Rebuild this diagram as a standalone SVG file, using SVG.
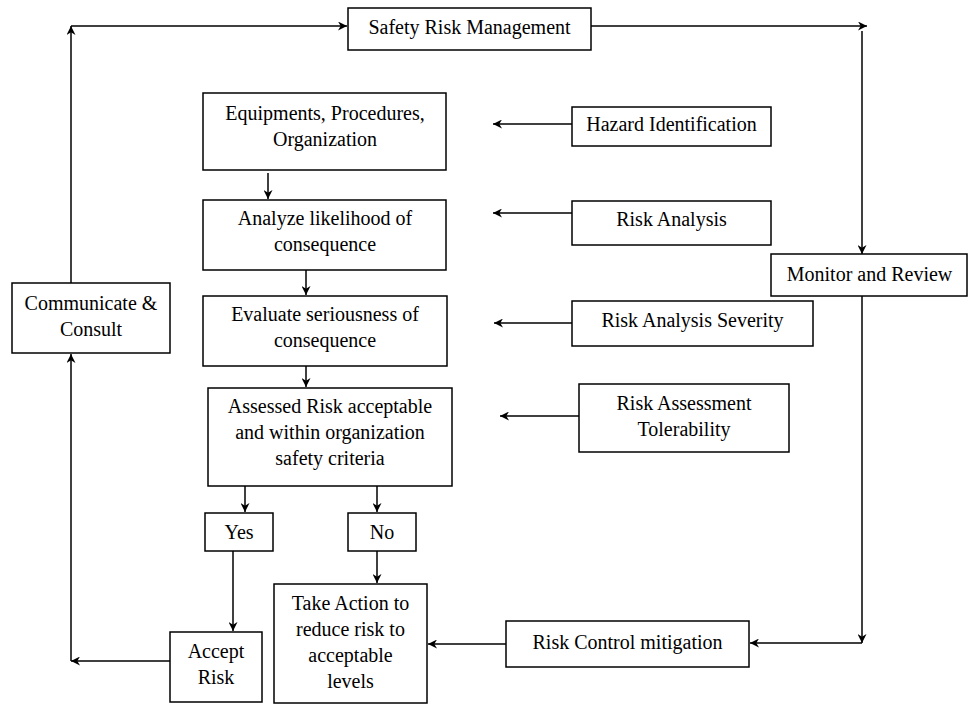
<svg xmlns="http://www.w3.org/2000/svg" width="968" height="704" viewBox="0 0 968 704">
<style>
rect{fill:#fff;stroke:#000;stroke-width:1.5}
text{font-family:"Liberation Serif","Times New Roman",serif;font-size:20px;fill:#000;text-anchor:middle}
.c path,.c line,.c polyline{fill:none;stroke:#000;stroke-width:1.5}
</style>
<defs>
<marker id="ah" viewBox="0 0 10 10" refX="10" refY="5" markerWidth="9" markerHeight="9" orient="auto" markerUnits="userSpaceOnUse"><path d="M0,0 L10,5 L0,10 L3,5 z" fill="#000"/></marker>
</defs>
<rect width="968" height="704" style="fill:#fff;stroke:none"/>
<g class="c" id="connectors">
<line x1="71" y1="283" x2="71" y2="26" marker-end="url(#ah)"/>
<line x1="71" y1="26" x2="347" y2="26" marker-end="url(#ah)"/>
<line x1="591" y1="26" x2="867" y2="26" marker-end="url(#ah)"/>
<line x1="862" y1="31" x2="862" y2="254" marker-end="url(#ah)"/>
<line x1="862" y1="296" x2="862" y2="643" marker-end="url(#ah)"/>
<line x1="862" y1="643" x2="750" y2="643" marker-end="url(#ah)"/>
<line x1="506" y1="644" x2="428" y2="644" marker-end="url(#ah)"/>
<line x1="170" y1="661" x2="71" y2="661" marker-end="url(#ah)"/>
<line x1="71" y1="661" x2="71" y2="354" marker-end="url(#ah)"/>
<line x1="572" y1="124" x2="493" y2="124" marker-end="url(#ah)"/>
<line x1="572" y1="213" x2="493" y2="213" marker-end="url(#ah)"/>
<line x1="572" y1="323" x2="494" y2="323" marker-end="url(#ah)"/>
<line x1="579" y1="416" x2="500" y2="416" marker-end="url(#ah)"/>
<line x1="268" y1="173" x2="268" y2="199" marker-end="url(#ah)"/>
<line x1="306" y1="270" x2="306" y2="295" marker-end="url(#ah)"/>
<line x1="306" y1="366" x2="306" y2="387" marker-end="url(#ah)"/>
<line x1="245" y1="486" x2="245" y2="512" marker-end="url(#ah)"/>
<line x1="377" y1="486" x2="377" y2="512" marker-end="url(#ah)"/>
<line x1="233" y1="551" x2="233" y2="631" marker-end="url(#ah)"/>
<line x1="377" y1="551" x2="377" y2="583" marker-end="url(#ah)"/>
</g>
<g id="safety-risk-management"><rect x="348" y="8" width="243" height="42"/><text x="469.5" y="34">Safety Risk Management</text></g>
<g id="equipments"><rect x="203" y="93" width="243" height="77"/><text x="325" y="120">Equipments, Procedures,</text><text x="325" y="146">Organization</text></g>
<g id="hazard-identification"><rect x="572" y="107" width="199" height="39"/><text x="671.5" y="131">Hazard Identification</text></g>
<g id="analyze"><rect x="203" y="200" width="243" height="70"/><text x="325" y="225">Analyze likelihood of</text><text x="325" y="251">consequence</text></g>
<g id="risk-analysis"><rect x="572" y="201" width="199" height="44"/><text x="671.5" y="226">Risk Analysis</text></g>
<g id="monitor-review"><rect x="771" y="254" width="196" height="42"/><text x="869.5" y="281">Monitor and Review</text></g>
<g id="communicate-consult"><rect x="12" y="283" width="158" height="70"/><text x="91" y="310">Communicate &amp;</text><text x="91" y="336">Consult</text></g>
<g id="evaluate"><rect x="203" y="296" width="244" height="70"/><text x="325" y="321">Evaluate seriousness of</text><text x="325" y="347">consequence</text></g>
<g id="risk-analysis-severity"><rect x="572" y="301" width="241" height="45"/><text x="692.5" y="327">Risk Analysis Severity</text></g>
<g id="assessed"><rect x="208" y="388" width="244" height="98"/><text x="330" y="413">Assessed Risk acceptable</text><text x="330" y="439">and within organization</text><text x="330" y="465">safety criteria</text></g>
<g id="risk-assessment-tolerability"><rect x="579" y="384" width="210" height="68"/><text x="684" y="410">Risk Assessment</text><text x="684" y="436">Tolerability</text></g>
<g id="yes"><rect x="205" y="513" width="68" height="38"/><text x="239" y="539">Yes</text></g>
<g id="no"><rect x="348" y="513" width="68" height="38"/><text x="382" y="539">No</text></g>
<g id="accept-risk"><rect x="170" y="632" width="92" height="70"/><text x="216" y="658">Accept</text><text x="216" y="684">Risk</text></g>
<g id="take-action"><rect x="274" y="584" width="153" height="119"/><text x="350.5" y="610">Take Action to</text><text x="350.5" y="636">reduce risk to</text><text x="350.5" y="662">acceptable</text><text x="350.5" y="688">levels</text></g>
<g id="risk-control-mitigation"><rect x="506" y="621" width="243" height="46"/><text x="627.5" y="649">Risk Control mitigation</text></g>
</svg>
